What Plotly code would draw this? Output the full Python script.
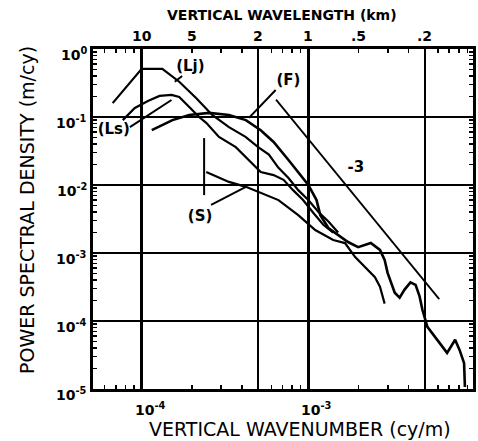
import math
import plotly.graph_objects as go

# ---------------- data ----------------
# vertical wavenumber (cy/m) and power spectral density (m/cy)
lj_k = [6.7e-5, 1.0e-4, 1.33e-4, 1.68e-4, 2.12e-4, 2.65e-4, 3.34e-4, 4.2e-4,
        5.0e-4, 5.8e-4, 6.6e-4, 7.6e-4, 8.7e-4, 1.0e-3, 1.15e-3, 1.32e-3, 1.51e-3]
lj_psd = [0.16, 0.51, 0.51, 0.33, 0.19, 0.107, 0.071, 0.051,
          0.036, 0.028, 0.018, 0.0127, 0.0084, 0.0060, 0.0040, 0.0029, 0.0020]

ls_k = [7.7e-5, 9.1e-5, 1.09e-4, 1.28e-4, 1.51e-4, 1.68e-4, 1.93e-4, 2.21e-4,
        2.44e-4, 2.91e-4, 3.67e-4, 4.58e-4, 5.18e-4, 6.19e-4, 7.1e-4, 8.1e-4,
        9.3e-4, 1.07e-3, 1.23e-3, 1.41e-3]
ls_psd = [0.090, 0.136, 0.172, 0.204, 0.211, 0.197, 0.140, 0.100,
          0.082, 0.051, 0.036, 0.021, 0.0155, 0.014, 0.0119, 0.0084,
          0.0060, 0.0039, 0.0026, 0.0020]

f_k = [1.15e-4, 1.53e-4, 1.93e-4, 2.54e-4, 3.34e-4, 4.22e-4, 5.18e-4, 6.19e-4,
       7.6e-4, 8.7e-4, 1.0e-3, 1.12e-3, 1.18e-3, 1.32e-3, 1.51e-3, 1.73e-3,
       1.99e-3, 2.37e-3, 2.69e-3, 2.87e-3, 2.99e-3, 3.30e-3, 3.53e-3, 3.78e-3,
       4.10e-3, 4.40e-3, 4.65e-3, 4.84e-3, 5.18e-3, 5.94e-3, 6.8e-3, 7.6e-3,
       8.1e-3, 8.6e-3, 8.7e-3]
f_psd = [0.064, 0.090, 0.107, 0.115, 0.107, 0.090, 0.064, 0.043,
         0.0233, 0.0155, 0.010, 0.0060, 0.0036, 0.00233, 0.00184, 0.00145,
         0.00122, 0.0014, 0.00111, 0.00079, 0.00051, 0.00026, 0.00022, 0.00029,
         0.00037, 0.00034, 0.00023, 0.000145, 8.2e-5, 5.3e-5, 3.4e-5, 5.3e-5,
         3.7e-5, 2.4e-5, 1.07e-5]

s_k = [2.44e-4, 3.34e-4, 4.22e-4, 5.04e-4, 6.62e-4, 8.7e-4, 1.10e-3, 1.41e-3,
       1.66e-3, 1.91e-3, 2.18e-3, 2.51e-3, 2.69e-3, 2.79e-3, 2.87e-3]
s_psd = [0.0155, 0.0111, 0.0094, 0.0079, 0.0060, 0.0036, 0.00218, 0.00155,
         0.0014, 0.00087, 0.00062, 0.00044, 0.00032, 0.00023, 0.00018]
s_marker_k = [2.37e-4, 2.37e-4]
s_marker_psd = [0.049, 0.0071]

ref_k = [6.4e-4, 6.1e-3]          # -3 slope reference line
ref_psd = [0.18, 2.1e-4]

# curve labels and their leader lines
labels = ["(Lj)", "(Ls)", "(F)", "(S)", "-3"]
label_k = [1.96e-4, 6.8e-5, 7.6e-4, 2.24e-4, 1.93e-3]
label_psd = [0.54, 0.064, 0.33, 0.0033, 0.0178]
leader_k = [[1.75e-4, 1.58e-4], [8.5e-5, 1.51e-4], [6.37e-4, 4.4e-4], [2.61e-4, 4.22e-4]]
leader_psd = [[0.40, 0.33], [0.071, 0.178], [0.25, 0.097], [0.0051, 0.0094]]

# axis ticks
y_decades = [0, -1, -2, -3, -4, -5]
x_decades = [-4, -3, -2]
x_grid = [1e-4, 5e-4, 1e-3, 5e-3]
top_wavelength_km = [10, 5, 2, 1, 0.5, 0.2, 0.1]
top_labels = ["10", "5", "2", "1", ".5", ".2", ".1"]

# ---------------- figure ----------------
FONT = "DejaVu Sans"
fig = go.Figure()

def line(x, y, w=2.2):
    fig.add_trace(go.Scatter(x=x, y=y, mode="lines",
                             line=dict(color="black", width=w),
                             hoverinfo="skip", showlegend=False))

line(lj_k, lj_psd)
line(ls_k, ls_psd)
line(f_k, f_psd, 2.6)
line(s_k, s_psd)
line(s_marker_k, s_marker_psd, 2)
line(ref_k, ref_psd, 1.8)
for lk, lp in zip(leader_k, leader_psd):
    line(lk, lp, 2)

fig.add_trace(go.Scatter(x=label_k, y=label_psd, mode="text", text=labels,
                         textfont=dict(family=FONT, size=15, color="black", weight="bold"),
                         hoverinfo="skip", showlegend=False))

minor_x = [m * 10 ** d for d in (-5, -4, -3) for m in range(2, 10)]
minor_y = [m * 10 ** d for d in (-5, -4, -3, -2, -1) for m in range(2, 10)]

axis_common = dict(type="log", showticklabels=False, showgrid=True, gridcolor="black",
                   gridwidth=2.5, showline=True, linecolor="black", linewidth=3,
                   mirror="allticks", ticks="", zeroline=False)

fig.update_xaxes(range=[-4.292, -2.012], tickmode="array", tickvals=x_grid,
                 minor=dict(tickmode="array", tickvals=minor_x, ticks="inside",
                            ticklen=4, tickwidth=1.5, tickcolor="black", showgrid=False),
                 **axis_common)
fig.update_yaxes(range=[-5, 0], tickmode="array", tickvals=[10 ** d for d in y_decades],
                 minor=dict(tickmode="array", tickvals=minor_y, ticks="inside",
                            ticklen=4, tickwidth=1.5, tickcolor="black", showgrid=False),
                 **axis_common)

ann = []
tick_font = dict(family=FONT, size=14, color="black", weight="bold")
for d in y_decades:
    ann.append(dict(text=f"10<sup>{d}</sup>", xref="paper", x=0, xanchor="right", xshift=-4,
                    yref="y", y=d, yanchor="middle", yshift=-5, showarrow=False, font=tick_font))
for d in x_decades:
    last = d == max(x_decades)
    ann.append(dict(text=f"10<sup>{d}</sup>", xref="x", x=d,
                    xanchor="right" if last else "left", xshift=-1 if last else -9,
                    yref="paper", y=0, yanchor="middle", yshift=-20,
                    showarrow=False, font=tick_font))
for wl, lab in zip(top_wavelength_km, top_labels):
    ann.append(dict(text=lab, xref="x", x=math.log10(1.0 / (wl * 1000.0)), xanchor="center",
                    yref="paper", y=1, yanchor="middle", yshift=13,
                    showarrow=False, font=tick_font))

ann.append(dict(text="VERTICAL WAVENUMBER (cy/m)", xref="paper", x=0, xshift=207,
                xanchor="center", yref="paper", y=0, yanchor="middle", yshift=-40,
                showarrow=False, font=dict(family=FONT, size=19, color="black")))
ann.append(dict(text="VERTICAL WAVELENGTH (km)", xref="paper", x=0, xshift=189,
                xanchor="center", yref="paper", y=1, yanchor="middle", yshift=34,
                showarrow=False, font=dict(family=FONT, size=14, color="black", weight="bold")))
ann.append(dict(text="POWER SPECTRAL DENSITY (m/cy)", textangle=-90, xref="paper", x=0,
                xshift=-66, xanchor="center", yref="paper", y=0.5, yanchor="middle",
                yshift=9, showarrow=False, font=dict(family=FONT, size=19, color="black")))

fig.update_layout(width=478, height=441, margin=dict(l=93, r=2, t=49, b=52),
                  plot_bgcolor="white", paper_bgcolor="white", showlegend=False,
                  annotations=ann)

fig.write_html("out.html", config={"displayModeBar": False, "staticPlot": True},
               post_script="document.body.style.margin='0';document.body.style.overflow='hidden';")
